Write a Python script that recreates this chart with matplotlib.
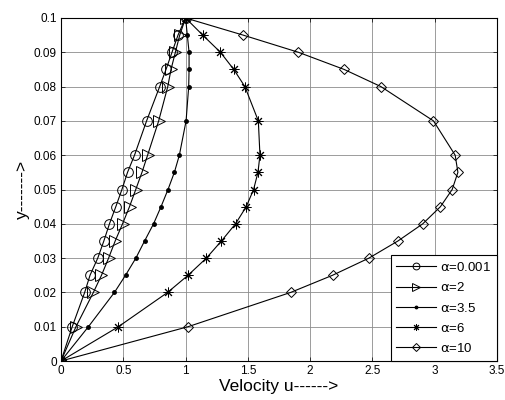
import numpy as np
import matplotlib
matplotlib.use('Agg')
import matplotlib.pyplot as plt

plt.rcParams['font.family'] = ['Liberation Sans', 'DejaVu Sans']
plt.rcParams['mathtext.fontset'] = 'dejavusans'

# y positions where the velocity was evaluated
y = [0, 0.01, 0.02, 0.025, 0.03, 0.035, 0.04, 0.045, 0.05, 0.055,
     0.06, 0.07, 0.08, 0.085, 0.09, 0.095, 0.1]

# velocity profiles for each alpha
u_a0001 = [0, 0.09, 0.19, 0.233, 0.295, 0.344, 0.389, 0.44, 0.489, 0.534,
           0.59, 0.687, 0.792, 0.843, 0.891, 0.939, 1.0]
u_a2 = [0, 0.12, 0.26, 0.325, 0.382, 0.435, 0.494, 0.55, 0.60, 0.65,
        0.695, 0.784, 0.857, 0.883, 0.918, 0.953, 1.0]
u_a35 = [0, 0.22, 0.429, 0.518, 0.601, 0.671, 0.743, 0.803, 0.859, 0.91,
         0.95, 1.004, 1.025, 1.028, 1.028, 1.014, 1.0]
u_a6 = [0, 0.461, 0.856, 1.02, 1.167, 1.288, 1.401, 1.487, 1.546, 1.581,
        1.597, 1.584, 1.476, 1.387, 1.28, 1.138, 1.0]
u_a10 = [0, 1.02, 1.844, 2.18, 2.472, 2.705, 2.904, 3.046, 3.14, 3.186,
         3.164, 2.99, 2.568, 2.273, 1.906, 1.463, 1.0]

labels = [r'$\mathrm{\alpha}$=0.001', r'$\mathrm{\alpha}$=2', r'$\mathrm{\alpha}$=3.5',
          r'$\mathrm{\alpha}$=6', r'$\mathrm{\alpha}$=10']

fig = plt.figure(figsize=(5.05, 4.0), dpi=100)
ax = fig.add_axes([0.1208, 0.0975, 0.8634, 0.8575])

ax.plot(u_a0001, y, 'k-', marker='o', ms=7, mfc='none', mew=0.7, lw=0.8, label=labels[0])
ax.plot(u_a2, y, 'k-', marker='>', ms=8.5, mfc='none', mew=0.7, lw=0.8, label=labels[1])
ax.plot(u_a35, y, 'k-', marker='.', ms=5, lw=0.8, label=labels[2])
ax.plot(u_a6, y, 'k-', marker=(8, 2, 0), ms=7, mew=0.7, lw=0.8, label=labels[3])
ax.plot(u_a10, y, 'k-', marker='D', ms=5.5, mfc='none', mew=0.7, lw=0.8, label=labels[4])

ax.set_xlim(0, 3.5)
ax.set_ylim(0, 0.1)
ax.set_xticks(np.arange(0, 3.51, 0.5))
ax.set_xticklabels(['0', '0.5', '1', '1.5', '2', '2.5', '3', '3.5'])
ax.set_yticks(np.arange(0, 0.101, 0.01))
ax.set_yticklabels(['0', '0.01', '0.02', '0.03', '0.04', '0.05', '0.06',
                    '0.07', '0.08', '0.09', '0.1'])
ax.grid(True, color='#8c8c8c', lw=0.6)
ax.tick_params(direction='in', length=3, width=0.5, labelsize=8.5,
               top=True, right=True, pad=3)
for s in ax.spines.values():
    s.set_linewidth(0.8)

ax.set_xlabel('Velocity u------>', fontsize=12.5, labelpad=1)
ax.set_ylabel('y------->', fontsize=12.5, labelpad=3)

leg = ax.legend(loc='lower right', bbox_to_anchor=(1, 0), borderaxespad=0,
                fontsize=9.5, fancybox=False, framealpha=1, edgecolor='k',
                markerscale=0.7, handlelength=3.0, labelspacing=0.55,
                handletextpad=0.3, borderpad=0.45)
leg.get_frame().set_linewidth(0.8)

plt.savefig('out.png', dpi=100)
